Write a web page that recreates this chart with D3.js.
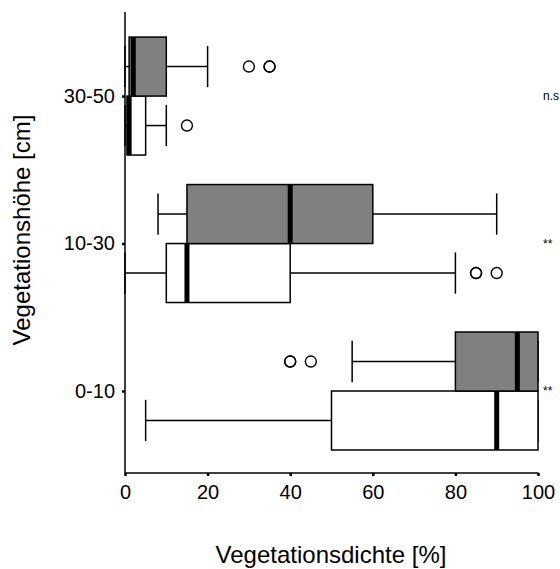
<!DOCTYPE html>
<html>
<head>
<meta charset="utf-8">
<script src="https://cdn.jsdelivr.net/npm/d3@7"></script>
<style>
  body { margin: 0; background: white; }
  text { font-family: "Liberation Sans", Arial, sans-serif; }
</style>
</head>
<body>
<script>
// categories bottom to top
const categories = ["0-10", "10-30", "30-50"];
const annotations = ["**", "**", "n.s."];
// [whisker low, q1, median, q3, whisker high]
const grayBoxes = [[55, 80, 95, 100, 100], [8, 15, 40, 60, 90], [0, 1, 2, 10, 20]];
const whiteBoxes = [[5, 50, 90, 100, 100], [0, 10, 15, 40, 80], [0, 0.5, 1, 5, 10]];
const grayOutliers = [[40, 40, 45], [], [30, 35, 35]];
const whiteOutliers = [[], [85, 85, 90], [15]];
const xTicks = [0, 20, 40, 60, 80, 100];

const width = 560, height = 569;

const svg = d3.select("body").append("svg")
  .attr("width", width)
  .attr("height", height);

const x = d3.scaleLinear().domain([0, 100]).range([125, 538]);
const y = d3.scaleLinear().domain([0.444, 3.57]).range([473, 12]);
const boxW = 0.4;       // box height in category units
const capW = 0.28;      // whisker cap length in category units

// axes
const xAxis = d3.axisBottom(x).tickValues(xTicks).tickSize(3).tickPadding(9);
const gx = svg.append("g").attr("transform", "translate(0,473)").call(xAxis);
gx.select(".domain").attr("stroke-width", 1.5).attr("d", "M125,0H538.5");
gx.selectAll(".tick line").attr("stroke-width", 2.5);
gx.selectAll(".tick text").attr("font-size", 20).attr("fill", "black");

const yAxis = d3.axisLeft(y).tickValues([1, 2, 3])
  .tickFormat((d) => categories[d - 1]).tickSize(3).tickPadding(7);
const gy = svg.append("g").attr("transform", "translate(125,0)").call(yAxis);
gy.select(".domain").attr("stroke-width", 1.5).attr("d", "M0,12V473");
gy.selectAll(".tick line").attr("stroke-width", 2.5);
gy.selectAll(".tick text").attr("font-size", 20).attr("fill", "black");

// draw one box with whiskers and outliers
function drawBox(stats, outliers, lo, hi, fill) {
  const g = svg.append("g");
  const mid = (lo + hi) / 2;
  const cTop = mid + capW / 2, cBot = mid - capW / 2;
  // whiskers
  g.append("line").attr("x1", x(stats[0])).attr("x2", x(stats[1]))
    .attr("y1", y(mid)).attr("y2", y(mid));
  g.append("line").attr("x1", x(stats[3])).attr("x2", x(stats[4]))
    .attr("y1", y(mid)).attr("y2", y(mid));
  // caps
  [stats[0], stats[4]].forEach((v) => {
    g.append("line").attr("x1", x(v)).attr("x2", x(v))
      .attr("y1", y(cTop)).attr("y2", y(cBot));
  });
  g.selectAll("line").attr("stroke", "black").attr("stroke-width", 1.5);
  // box
  g.append("rect")
    .attr("x", x(stats[1]))
    .attr("y", y(hi))
    .attr("width", x(stats[3]) - x(stats[1]))
    .attr("height", y(lo) - y(hi))
    .attr("fill", fill)
    .attr("stroke", "black")
    .attr("stroke-width", 1.5);
  // median
  g.append("line").attr("x1", x(stats[2])).attr("x2", x(stats[2]))
    .attr("y1", y(hi)).attr("y2", y(lo))
    .attr("stroke", "black").attr("stroke-width", 5);
  // outliers
  g.selectAll("circle").data(outliers).enter().append("circle")
    .attr("cx", (d) => x(d))
    .attr("cy", y(mid))
    .attr("r", 5.5)
    .attr("fill", "none")
    .attr("stroke", "black")
    .attr("stroke-width", 1.4);
}

categories.forEach((c, i) => {
  const pos = i + 1;
  drawBox(whiteBoxes[i], whiteOutliers[i], pos - boxW, pos, "white");
  drawBox(grayBoxes[i], grayOutliers[i], pos, pos + boxW, "#808080");
});

// significance labels
svg.selectAll(".sig").data(annotations).enter().append("text")
  .attr("class", "sig")
  .attr("x", 543)
  .attr("y", (d, i) => y(i + 1) + 4)
  .attr("font-size", 12)
  .attr("fill", "black")
  .text((d) => d);

// axis titles
svg.append("text")
  .attr("x", 331)
  .attr("y", 563)
  .attr("text-anchor", "middle")
  .attr("font-size", 24)
  .text("Vegetationsdichte [%]");

svg.append("text")
  .attr("transform", "translate(30,230)rotate(-90)")
  .attr("text-anchor", "middle")
  .attr("font-size", 24)
  .text("Vegetationshöhe [cm]");
</script>
</body>
</html>
